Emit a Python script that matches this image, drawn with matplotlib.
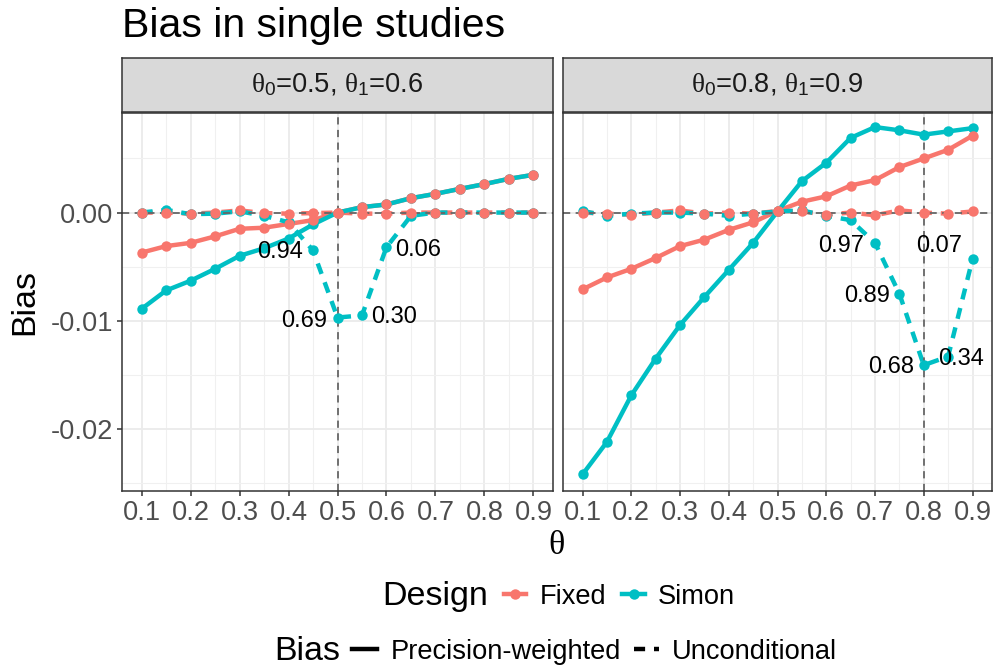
import matplotlib
matplotlib.use("Agg")
import matplotlib.pyplot as plt
from matplotlib.lines import Line2D
from matplotlib.ticker import FixedLocator

plt.rcParams['font.family'] = ['Liberation Sans', 'DejaVu Sans']
plt.rcParams['axes.unicode_minus'] = False
plt.rcParams['mathtext.fontset'] = 'custom'
plt.rcParams['mathtext.rm'] = 'Liberation Sans'
plt.rcParams['mathtext.it'] = 'Liberation Serif'

RED = "#F8766D"
CYAN = "#00BFC4"

# ---- data ----
theta = [0.1, 0.15, 0.2, 0.25, 0.3, 0.35, 0.4, 0.45, 0.5,
         0.55, 0.6, 0.65, 0.7, 0.75, 0.8, 0.85, 0.9]

panel_titles = [r"$\theta_0$=0.5, $\theta_1$=0.6", r"$\theta_0$=0.8, $\theta_1$=0.9"]
theta0 = [0.5, 0.8]

# panel 1: theta0=0.5, theta1=0.6
fixed_pw_1 = [-0.0037, -0.0031, -0.0028, -0.0022, -0.0015, -0.0014, -0.00105, -0.0007, 0.0,
              0.0005, 0.00075, 0.00133, 0.00173, 0.00219, 0.00263, 0.00312, 0.00349]
simon_pw_1 = [-0.0089, -0.0072, -0.0063, -0.0052, -0.0040, -0.0033, -0.0024, -0.0011, 0.0,
              0.0005, 0.00075, 0.00133, 0.00173, 0.00219, 0.00263, 0.00312, 0.00349]
fixed_unc_1 = [0.0, 0.0, -0.0001, 0.0, 0.0002, -0.00005, -0.0001, -0.00005, 0.0,
               -0.0001, -0.0001, 0.0, 0.0, 0.0, 0.0, 0.0, 0.0]
simon_unc_1 = [0.0, 0.00025, -0.00015, -0.0001, 0.00012, -0.0003, -0.0009, -0.0035, -0.0097,
               -0.0095, -0.0032, -0.0003, 0.0, 0.0, 0.0, 0.0, 0.0]

# panel 2: theta0=0.8, theta1=0.9
fixed_pw_2 = [-0.0071, -0.0060, -0.0052, -0.0042, -0.0031, -0.0025, -0.0016, -0.0009, 0.00015,
              0.0010, 0.0015, 0.0025, 0.0030, 0.0042, 0.0050, 0.0058, 0.0071]
simon_pw_2 = [-0.0242, -0.0212, -0.0169, -0.0135, -0.0104, -0.0078, -0.0053, -0.0028, 0.0001,
              0.0029, 0.0046, 0.0069, 0.0079, 0.0076, 0.0072, 0.0075, 0.0078]
fixed_unc_2 = [0.0, -0.0001, -0.0002, 0.0, 0.0002, -0.0001, 0.0, -0.0001, 0.00015,
               0.0001, -0.0002, 0.0, -0.00025, 0.0002, 0.0, -0.0001, 0.0001]
simon_unc_2 = [0.00015, -0.0003, -0.0001, 0.0, 0.0, -0.0001, -0.0003, -0.0001, 0.0001,
               0.0002, -0.0003, -0.0007, -0.0028, -0.0075, -0.0141, -0.0133, -0.0043]

# point labels on the Simon unconditional curve
lab_x_1 = [0.45, 0.5, 0.55, 0.6]
lab_t_1 = ["0.94", "0.69", "0.30", "0.06"]
lab_x_2 = [0.7, 0.75, 0.8, 0.85, 0.9]
lab_t_2 = ["0.97", "0.89", "0.68", "0.34", "0.07"]

# label placement (pixels offset, alignment)
lab_off_1 = [(-10, -2, "right"), (-10, -3, "right"), (9, -2, "left"), (9, -3, "left")]
lab_off_2 = [(-11, -3, "right"), (-9, -2, "right"), (-10, -2, "right"), (-10, -2, "left"), (-10, 13, "right")]

panels = [
    (fixed_pw_1, simon_pw_1, fixed_unc_1, simon_unc_1, lab_x_1, lab_t_1, lab_off_1),
    (fixed_pw_2, simon_pw_2, fixed_unc_2, simon_unc_2, lab_x_2, lab_t_2, lab_off_2),
]

W, H = 994, 666
fig = plt.figure(figsize=(W / 100, H / 100), dpi=100)

def box(x0, y0, x1, y1):
    return [x0 / W, 1 - y1 / H, (x1 - x0) / W, (y1 - y0) / H]

panel_px = [(122, 563), (553, 992)]
LW = 3.2
MS = 7.5
DASH = (0, (2.5, 2.0))
BASE = 24.5
SMALL = 19.6

for i, (fpw, spw, fun, sun, lx, lt, loff) in enumerate(panels):
    x0 = panel_px[0][i]
    x1 = panel_px[1][i]
    ax = fig.add_axes(box(x0, 113, x1, 490.7))
    ax.set_xlim(0.06, 0.94)
    ax.set_ylim(-0.0257, 0.0092)
    ax.xaxis.set_major_locator(FixedLocator([0.1, 0.2, 0.3, 0.4, 0.5, 0.6, 0.7, 0.8, 0.9]))
    ax.xaxis.set_minor_locator(FixedLocator([0.15, 0.25, 0.35, 0.45, 0.55, 0.65, 0.75, 0.85]))
    ax.yaxis.set_major_locator(FixedLocator([-0.02, -0.01, 0.0]))
    ax.yaxis.set_minor_locator(FixedLocator([-0.025, -0.015, -0.005, 0.005]))
    ax.set_xticklabels(["0.1", "0.2", "0.3", "0.4", "0.5", "0.6", "0.7", "0.8", "0.9"])
    ax.grid(which="major", color="#EBEBEB", lw=1.3, zorder=0)
    ax.grid(which="minor", color="#F0F0F0", lw=0.8, zorder=0)
    ax.set_axisbelow(True)
    for s in ax.spines.values():
        s.set_color("#333333")
        s.set_linewidth(1.1)
        s.set_zorder(6)
    ax.tick_params(which="major", length=3.6, width=1.1, color="#333333",
                   labelcolor="#4D4D4D", labelsize=SMALL, pad=3)
    ax.tick_params(which="minor", length=0)
    if i == 0:
        ax.set_yticklabels(["-0.02", "-0.01", "0.00"])
    else:
        ax.tick_params(axis="y", which="both", left=False, labelleft=False)

    # lines
    ax.plot(theta, fpw, color=RED, lw=LW, solid_capstyle="butt", zorder=2)
    ax.plot(theta, fun, color=RED, lw=LW, ls=DASH, zorder=2)
    ax.plot(theta, spw, color=CYAN, lw=LW, solid_capstyle="butt", zorder=2.1)
    ax.plot(theta, sun, color=CYAN, lw=LW, ls=DASH, zorder=2.1)
    # reference lines
    ax.axhline(0, color="#666666", lw=1.3, ls=(0, (4, 3)), zorder=2.5)
    ax.axvline(theta0[i], color="#666666", lw=1.3, ls=(0, (4, 3)), zorder=2.5)
    # points
    ax.plot(theta, spw, "o", color=CYAN, ms=MS, mew=0, zorder=3)
    ax.plot(theta, sun, "o", color=CYAN, ms=MS, mew=0, zorder=3)
    ax.plot(theta, fpw, "o", color=RED, ms=MS, mew=0, zorder=3.1)
    ax.plot(theta, fun, "o", color=RED, ms=MS, mew=0, zorder=3.1)

    for x, t, (dx, dy, ha) in zip(lx, lt, loff):
        y = sun[theta.index(x)]
        ax.annotate(t, xy=(x, y), xytext=(dx, dy), textcoords="offset pixels",
                    ha=ha, va="center", fontsize=17, color="black", zorder=5)

    # strip
    st = fig.add_axes(box(x0, 58.3, x1, 111.5))
    st.set_facecolor("#D9D9D9")
    st.set_xticks([])
    st.set_yticks([])
    for s in st.spines.values():
        s.set_color("#333333")
        s.set_linewidth(1.1)
    st.text(0.5, 0.5, panel_titles[i], transform=st.transAxes, ha="center", va="center",
            fontsize=SMALL, color="#1A1A1A")

fig.text(122 / W, 1 - 37 / H, "Bias in single studies", fontsize=29.5, va="baseline", ha="left")
fig.text(24.5 / W, 1 - 301.8 / H, "Bias", fontsize=BASE, rotation=90, ha="center", va="center")
fig.text(557 / W, 1 - 546 / H, "θ", fontsize=BASE, ha="center", va="center", family="Liberation Serif")

# legend: Design
fig.text(382 / W, 1 - 597 / H, "Design", fontsize=BASE, ha="left", va="center")
h_design = [Line2D([], [], color=RED, lw=LW, marker="o", ms=MS, mew=0),
            Line2D([], [], color=CYAN, lw=LW, marker="o", ms=MS, mew=0)]
fig.legend(h_design, ["Fixed", "Simon"], loc="center left", bbox_to_anchor=(504 / W, 1 - 597 / H),
           ncol=2, frameon=False, fontsize=SMALL, borderpad=0, handlelength=0.82,
           handletextpad=0.48, columnspacing=0.6, borderaxespad=0)

# legend: Bias type
fig.text(274 / W, 1 - 652 / H, "Bias", fontsize=BASE, ha="left", va="center")
h_bias = [Line2D([], [], color="black", lw=LW),
          Line2D([], [], color="black", lw=LW, ls=DASH)]
fig.legend(h_bias, ["Precision-weighted", "Unconditional"], loc="center left",
           bbox_to_anchor=(352 / W, 1 - 652 / H), ncol=2, frameon=False, fontsize=SMALL,
           borderpad=0, handlelength=0.93, handletextpad=0.48, columnspacing=0.48, borderaxespad=0)

fig.savefig("out.png", dpi=100, facecolor="white")
